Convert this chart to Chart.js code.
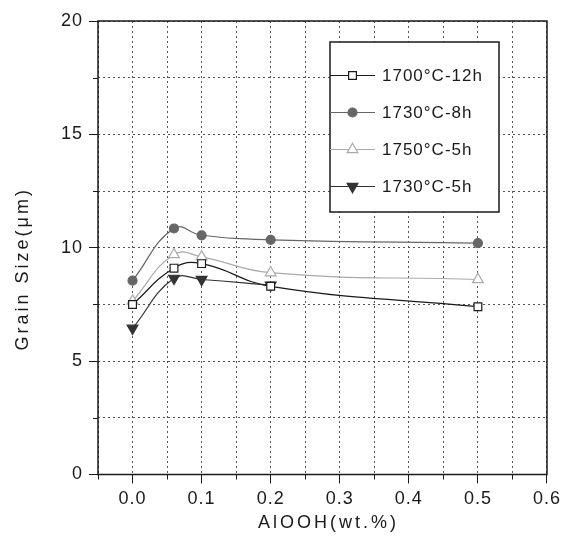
<!DOCTYPE html>
<html>
<head>
<meta charset="utf-8">
<script src="https://cdn.jsdelivr.net/npm/chart.js@4.4.0/dist/chart.umd.min.js"></script>
<style>
	html,body{margin:0;padding:0;background:#fff;}
	#wrap{width:566px;height:544px;}
</style>
</head>
<body>
<div id="wrap"><canvas id="grafica"></canvas></div>
<script>
var X_ALOOH=[0,0.06,0.1,0.2,0.5];
var S_1700_12H=[7.5,9.1,9.3,8.3,7.4];
var S_1730_8H=[8.55,10.85,10.55,10.35,10.2];
var S_1750_5H=[7.65,9.7,9.6,8.9,8.6];
var S_1730_5H=[6.45,8.65,8.6,8.35];
var ETIQUETAS=["1700°C-12h","1730°C-8h","1750°C-5h","1730°C-5h"];
var X_LABELS=["0.0","0.1","0.2","0.3","0.4","0.5","0.6"];
var Y_LABELS=["0","5","10","15","20"];

var FUENTE='"Liberation Sans", Arial, sans-serif';
Chart.defaults.font.family=FUENTE;
Chart.defaults.color='#1a1a1a';

function puntos(ys){
	return ys.map(function(y,i){ return {x:X_ALOOH[i],y:y}; });
}

function serie(i,ys,color,relleno,estilo,radio,rot){
	return {
		label:ETIQUETAS[i],
		data:puntos(ys),
		borderColor:color,
		backgroundColor:relleno,
		borderWidth:1.2,
		pointStyle:estilo,
		pointRadius:radio,
		pointHoverRadius:radio,
		pointRotation:rot||0,
		pointBorderColor:color,
		pointBackgroundColor:relleno,
		pointBorderWidth:1.2,
		tension:0.45,
		fill:false
	};
}

function esMenor(c){
	return c.tick && c.tick.label==='';
}

var marco={
	id:'marco',
	beforeLayout:function(chart){ chart.ctx.letterSpacing='1px'; },
	beforeDraw:function(chart){ chart.ctx.letterSpacing='1px'; },
	afterDraw:function(chart){
		var ctx=chart.ctx, a=chart.chartArea, sx=chart.scales.x, sy=chart.scales.y;
		ctx.save();
		ctx.setLineDash([]);
		//minor ticks, outward and short
		ctx.strokeStyle='#1a1a1a';
		ctx.lineWidth=1;
		ctx.beginPath();
		sx.ticks.forEach(function(t){
			if(t.label===''){
				var px=Math.round(sx.getPixelForValue(t.value))+0.5;
				ctx.moveTo(px,a.bottom);
				ctx.lineTo(px,a.bottom+5);
			}
		});
		sy.ticks.forEach(function(t){
			if(t.label===''){
				var py=Math.round(sy.getPixelForValue(t.value))+0.5;
				ctx.moveTo(a.left,py);
				ctx.lineTo(a.left-5,py);
			}
		});
		ctx.stroke();
		//frame
		ctx.lineWidth=1.5;
		ctx.strokeRect(a.left,a.top,a.right-a.left,a.bottom-a.top);

		//legend box
		var lx=a.left+232, ly=a.top+21, lw=169, lh=170;
		ctx.fillStyle='#fff';
		ctx.fillRect(lx,ly,lw,lh);
		ctx.strokeRect(lx,ly,lw,lh);
		ctx.font='17px '+FUENTE;
		ctx.letterSpacing='1px';
		ctx.textBaseline='middle';
		ctx.textAlign='left';
		chart.data.datasets.forEach(function(ds,i){
			var y=ly+33.5+i*37;
			ctx.strokeStyle=ds.borderColor;
			ctx.lineWidth=1.2;
			ctx.beginPath();
			ctx.moveTo(lx,y);
			ctx.lineTo(lx+45,y);
			ctx.stroke();
			ctx.fillStyle=ds.pointBackgroundColor;
			ctx.strokeStyle=ds.pointBorderColor;
			Chart.helpers.drawPoint(ctx,{pointStyle:ds.pointStyle,radius:ds.pointRadius,rotation:ds.pointRotation,borderWidth:1.2},lx+22.5,y);
			ctx.fillStyle='#1a1a1a';
			ctx.fillText(ds.label,lx+52,y+1);
		});

		//axis titles
		ctx.font='18px '+FUENTE;
		ctx.letterSpacing='3px';
		ctx.textAlign='center';
		ctx.fillStyle='#1a1a1a';
		ctx.fillText('AlOOH(wt.%)',(a.left+a.right)/2+6,523);
		ctx.translate(23,(a.top+a.bottom)/2+21);
		ctx.rotate(-Math.PI/2);
		ctx.fillText('Grain Size(\u03bcm)',0,0);
		ctx.restore();
	}
};

var config={
	type:'line',
	data:{
		datasets:[
			serie(0,S_1700_12H,'#1a1a1a','#ffffff','rect',5.5),
			serie(1,S_1730_8H,'#666666','#666666','circle',4.5),
			serie(2,S_1750_5H,'#aaaaaa','#ffffff','triangle',6.2),
			serie(3,S_1730_5H,'#333333','#333333','triangle',6.2,180)
		]
	},
	options:{
		responsive:true,
		maintainAspectRatio:false,
		animation:false,
		events:[],
		layout:{padding:{top:21,right:16,left:0,bottom:0}},
		plugins:{legend:{display:false},tooltip:{enabled:false}},
		scales:{
			x:{
				type:'linear',
				min:-0.05,
				max:0.6,
				afterFit:function(s){ s.height=69.5; },
				ticks:{
					stepSize:0.05,
					autoSkip:false,
					maxRotation:0,
					padding:5,
					font:{size:18},
					color:'#1a1a1a',
					callback:function(v){
						var n=Math.round(v*100);
						if(n<0 || n%10!==0) return '';
						return X_LABELS[n/10]||'';
					}
				},
				grid:{
					color:'#555',
					lineWidth:1,
					tickLength:9,
					tickColor:function(c){ return esMenor(c)?'rgba(0,0,0,0)':'#1a1a1a'; },
					tickBorderDash:[]
				},
				border:{display:false,dash:[2,3]}
			},
			y:{
				min:0,
				max:20,
				afterFit:function(s){ s.width=98; },
				ticks:{
					stepSize:2.5,
					autoSkip:false,
					padding:6,
					font:{size:18},
					color:'#1a1a1a',
					callback:function(v){
						var n=Math.round(v*10);
						if(n%50!==0) return '';
						return Y_LABELS[n/50]||'';
					}
				},
				grid:{
					color:'#555',
					lineWidth:1,
					tickLength:9,
					tickColor:function(c){ return esMenor(c)?'rgba(0,0,0,0)':'#1a1a1a'; },
					tickBorderDash:[]
				},
				border:{display:false,dash:[2,3]}
			}
		}
	},
	plugins:[marco]
};

var canvas=document.getElementById('grafica').getContext('2d');
new Chart(canvas,config);
</script>
</body>
</html>
